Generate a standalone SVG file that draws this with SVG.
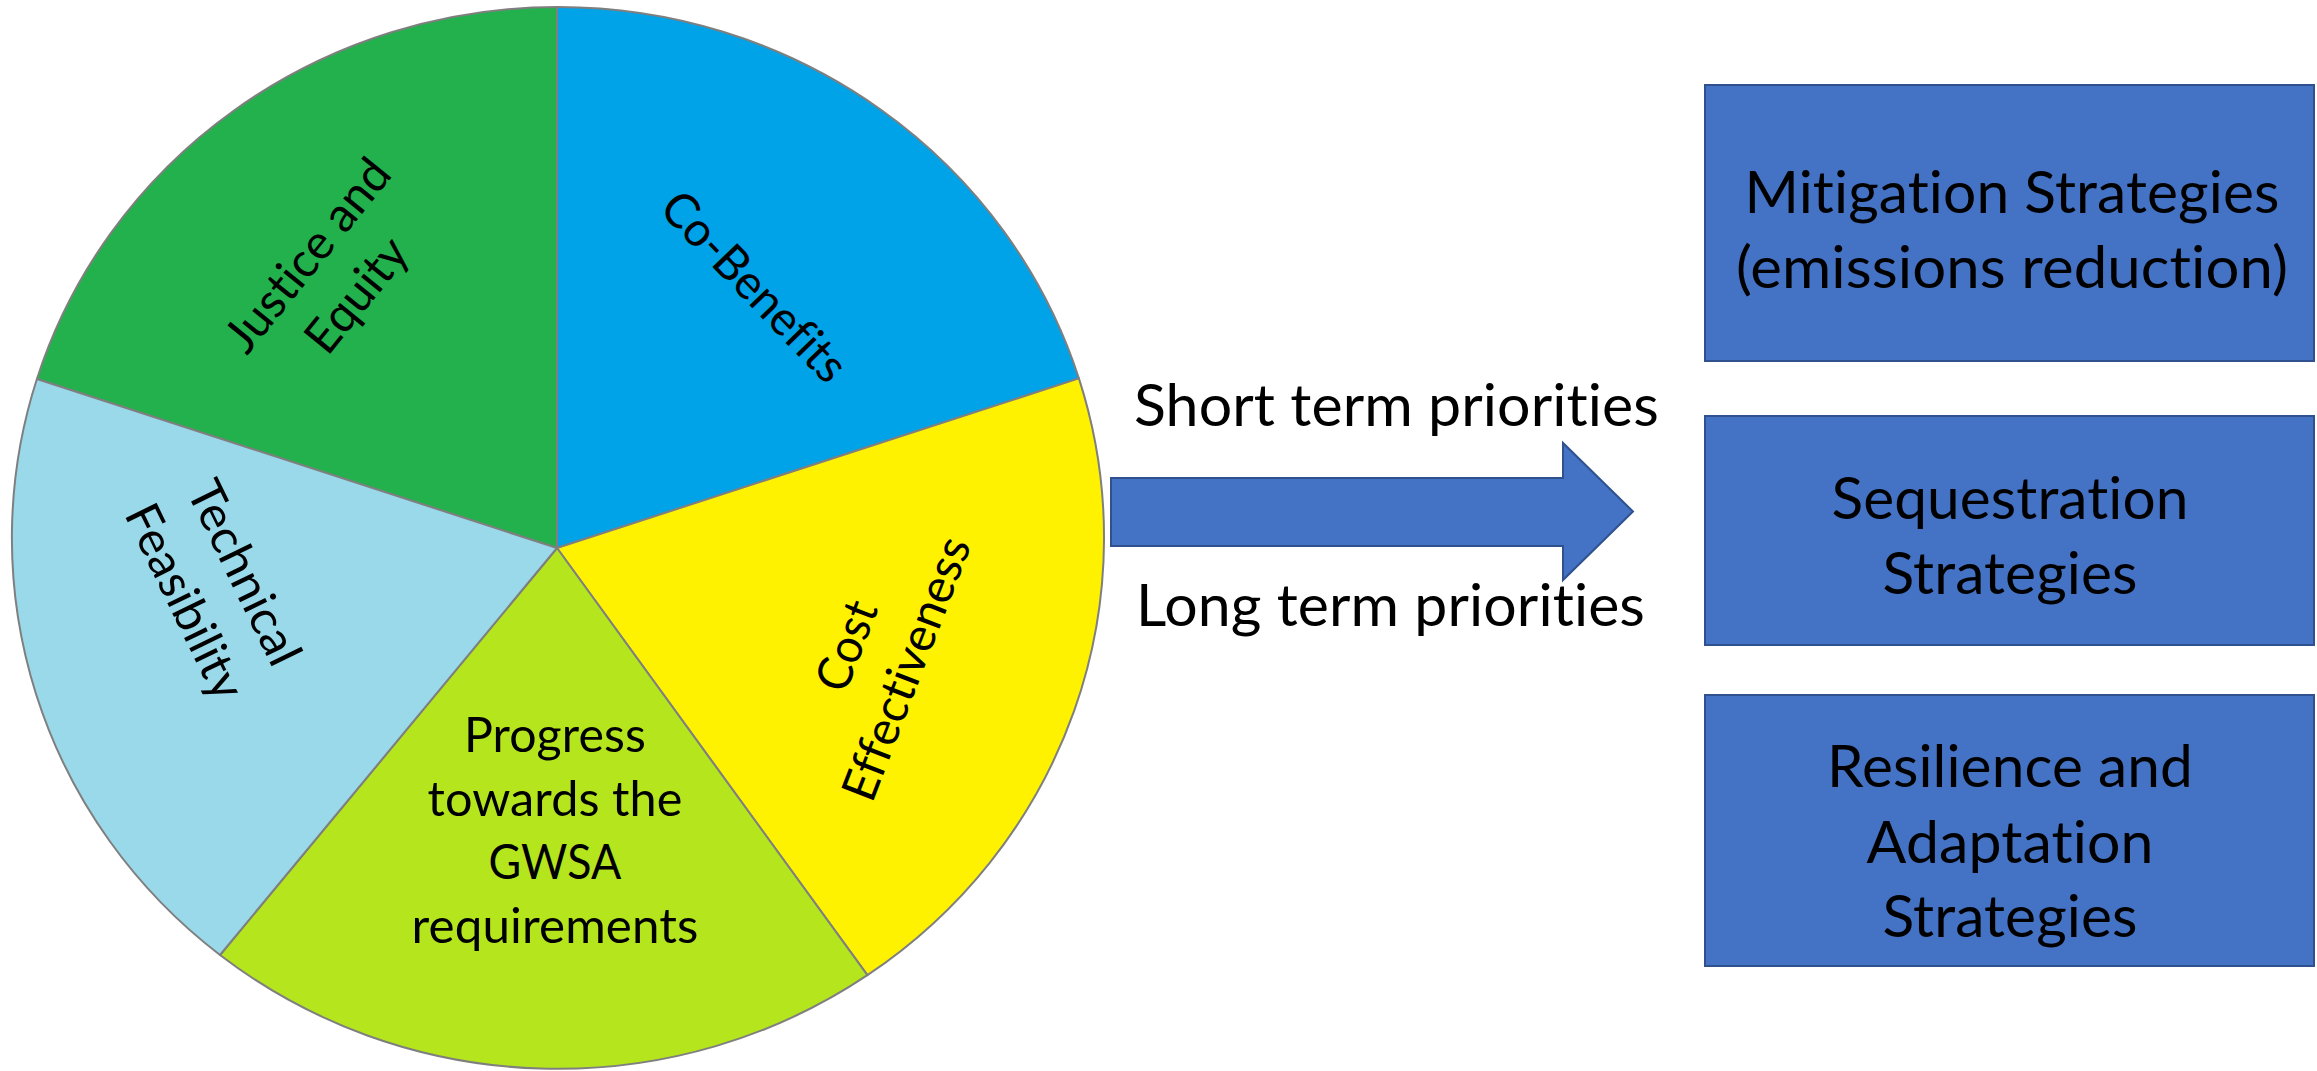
<svg xmlns="http://www.w3.org/2000/svg" width="2317" height="1071" viewBox="0 0 2317 1071">
<style>
text{font-variant-ligatures:none;font-feature-settings:"liga" 0,"clig" 0,"calt" 0,"dlig" 0;letter-spacing:0.1px}
.slice{stroke:#7f7f7f;stroke-width:2;stroke-linejoin:round}
.pl{font-family:Lato,"Open Sans","Liberation Sans",sans-serif;font-size:48px;fill:#000;text-anchor:middle}
.bl{font-family:Lato,"Open Sans","Liberation Sans",sans-serif;font-size:58px;fill:#000;text-anchor:middle}
.al{font-family:Lato,"Open Sans","Liberation Sans",sans-serif;font-size:58px;fill:#000}
.box{fill:#4472c4;stroke:#2f528f;stroke-width:2}
</style>
<rect width="2317" height="1071" fill="#fff"/>
<g id="pie">
<g id="justice">
<path class="slice" fill="#22b14c" d="M557,548 L36.9,379 A546,531 0 0,1 557,7 Z"/>
<g transform="translate(332,275) rotate(-51)">
<text class="pl" x="0" y="-15" textLength="233" lengthAdjust="spacingAndGlyphs">Justice and</text>
<text class="pl" x="0" y="48" textLength="133" lengthAdjust="spacingAndGlyphs">Equity</text>
</g>
</g>
<g id="cobenefits">
<path class="slice" fill="#00a2e8" d="M557,548 L557,7 A546,531 0 0,1 1078.9,378.4 Z"/>
<g transform="translate(754,287) rotate(46)">
<text class="pl" x="0" y="16" textLength="244" lengthAdjust="spacingAndGlyphs">Co-Benefits</text>
</g>
</g>
<g id="cost">
<path class="slice" fill="#fff200" d="M557,548 L1078.9,378.4 A546,531 0 0,1 867.4,975.2 Z"/>
<g transform="translate(876,657) rotate(-69)">
<text class="pl" x="0" y="-15" textLength="93" lengthAdjust="spacingAndGlyphs">Cost</text>
<text class="pl" x="0" y="49" textLength="278" lengthAdjust="spacingAndGlyphs">Effectiveness</text>
</g>
</g>
<g id="progress">
<path class="slice" fill="#b5e61d" d="M557,548 L867.4,975.2 A546,531 0 0,1 220,955 Z"/>
<text class="pl" x="555" y="752" textLength="182" lengthAdjust="spacingAndGlyphs">Progress</text>
<text class="pl" x="555" y="816" textLength="255" lengthAdjust="spacingAndGlyphs">towards the</text>
<text class="pl" x="555" y="879" textLength="133" lengthAdjust="spacingAndGlyphs">GWSA</text>
<text class="pl" x="555" y="943" textLength="287" lengthAdjust="spacingAndGlyphs">requirements</text>
</g>
<g id="technical">
<path class="slice" fill="#99d9ea" d="M557,548 L220,955 A546,531 0 0,1 36.9,379 Z"/>
<g transform="translate(215,587) rotate(64)">
<text class="pl" x="0" y="-16" textLength="199" lengthAdjust="spacingAndGlyphs">Technical</text>
<text class="pl" x="0" y="50" textLength="211" lengthAdjust="spacingAndGlyphs">Feasibility</text>
</g>
</g>
</g>
<g id="connectors">
<polygon class="box" points="1111,478 1563,478 1563,443 1633,511.5 1563,580 1563,546 1111,546"/>
<text class="al" x="1134" y="426" textLength="525" lengthAdjust="spacingAndGlyphs">Short term priorities</text>
<text class="al" x="1136" y="626" textLength="509" lengthAdjust="spacingAndGlyphs">Long term priorities</text>
</g>
<g id="mitigation">
<rect class="box" x="1705" y="85" width="609" height="276"/>
<text class="bl" x="2012" y="213" textLength="535" lengthAdjust="spacingAndGlyphs">Mitigation Strategies</text>
<text class="bl" x="2012" y="288" textLength="552" lengthAdjust="spacingAndGlyphs">(emissions reduction)</text>
</g>
<g id="sequestration">
<rect class="box" x="1705" y="416" width="609" height="229"/>
<text class="bl" x="2010" y="519" textLength="357" lengthAdjust="spacingAndGlyphs">Sequestration</text>
<text class="bl" x="2010" y="594" textLength="255" lengthAdjust="spacingAndGlyphs">Strategies</text>
</g>
<g id="resilience">
<rect class="box" x="1705" y="695" width="609" height="271"/>
<text class="bl" x="2010" y="787" textLength="366" lengthAdjust="spacingAndGlyphs">Resilience and</text>
<text class="bl" x="2010" y="863" textLength="287" lengthAdjust="spacingAndGlyphs">Adaptation</text>
<text class="bl" x="2010" y="937" textLength="255" lengthAdjust="spacingAndGlyphs">Strategies</text>
</g>
</svg>
